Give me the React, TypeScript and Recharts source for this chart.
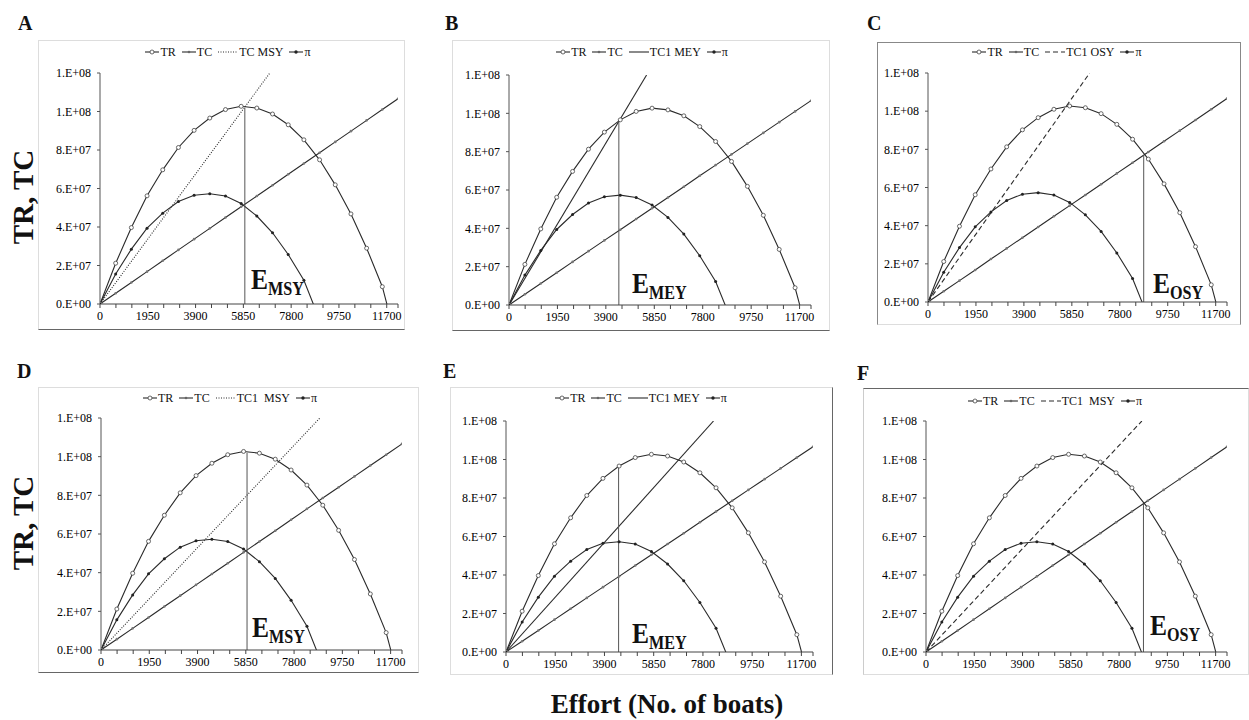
import React from "react";
import { LineChart, Line, XAxis, YAxis } from "recharts";

// effort (boats) at each plotted point
const effort = [0, 640, 1280, 1920, 2560, 3200, 3840, 4480, 5120, 5760, 6400, 7040, 7680, 8320, 8960, 9600, 10240, 10880, 11520, 12160];
const totalRevenue = [0, 2.12e7, 3.97e7, 5.62e7, 6.97e7, 8.13e7, 9.02e7, 9.66e7, 1.01e8, 1.027e8, 1.018e8, 9.87e7, 9.31e7, 8.53e7, 7.49e7, 6.19e7, 4.68e7, 2.9e7, 9.0e6, -2.2e7];
const totalCost = [0, 5.6e6, 1.12e7, 1.68e7, 2.25e7, 2.81e7, 3.37e7, 3.93e7, 4.49e7, 5.05e7, 5.61e7, 6.17e7, 6.74e7, 7.3e7, 7.86e7, 8.42e7, 8.98e7, 9.54e7, 1.01e8, 1.066e8];
const profit = [0, 1.56e7, 2.85e7, 3.94e7, 4.72e7, 5.32e7, 5.65e7, 5.73e7, 5.61e7, 5.22e7, 4.57e7, 3.7e7, 2.57e7, 1.23e7, -8.2e6];

const panelLetters = ["A", "B", "C", "D", "E", "F"];
const costLineNames = ["TC MSY", "TC1 MEY", "TC1 OSY", "TC1  MSY", "TC1 MEY", "TC1  MSY"];
// effort at which each panel's cost line reaches the top of the axis (1.2E+08)
const costLineReach = [6930, 5540, 6576, 8840, 8221, 8720];
const refEffort = [5910, 4423, 8773, 5900, 4460, 8785];
const refHeight = [1.02e8, 9.57e7, 7.7e7, 1.02e8, 9.7e7, 7.7e7];
const refNames = ["MSY", "MEY", "OSY", "MSY", "MEY", "OSY"];

const yTicks = [0, 2e7, 4e7, 6e7, 8e7, 1e8, 1.2e8];
const xTicks = [0, 650, 1300, 1950, 2600, 3250, 3900, 4550, 5200, 5850, 6500, 7150, 7800, 8450, 9100, 9750, 10400, 11050, 11700, 12160];
const xLabelTicks = [0, 1950, 3900, 5850, 7800, 9750, 11700];

const X_MAX = 12160;
const Y_MAX = 1.2e8;
const X_AXIS_H = 20;
const Y_AXIS_W = 50;
const FONT = '"Liberation Serif", "Times New Roman", serif';
const INK = "#2a2a2a";

const rows = effort.map((x, i) => ({ x, tr: totalRevenue[i], tc: totalCost[i] }));
const profitRows = profit.map((p, i) => ({ x: effort[i], pi: p }));

// box: x, y, w, h ; plot: x0, y0, x1, y1 ; border: top right bottom left
const layout = [
  { box: [38, 40, 367, 290], plot: [100, 73, 398, 304], legend: [228, 52], letter: [18, 30], eLabel: [251, 289], dash: "1 1.5", border: ["#ddd", "#ddd", "#666", "#ddd"] },
  { box: [452, 40, 378, 291], plot: [509, 75, 811, 305], legend: [642, 52], letter: [445, 30], eLabel: [632, 293], dash: "", border: ["#ddd", "#ddd", "#666", "#ddd"] },
  { box: [877, 42, 364, 283], plot: [928, 73, 1227, 302], legend: [1057, 52], letter: [867, 30], eLabel: [1153, 293], dash: "5 3", border: ["#888", "#888", "#ddd", "#888"] },
  { box: [38, 387, 381, 286], plot: [101, 418, 402, 650], legend: [230, 398], letter: [17, 378], eLabel: [252, 637], dash: "1 1.5", border: ["#ddd", "#ddd", "#666", "#ddd"] },
  { box: [450, 387, 383, 288], plot: [506, 421, 813, 652], legend: [641, 398], letter: [443, 378], eLabel: [632, 643], dash: "", border: ["#ddd", "#666", "#ddd", "#ddd"] },
  { box: [863, 388, 386, 287], plot: [926, 421, 1227, 652], legend: [1055, 401], letter: [857, 380], eLabel: [1150, 635], dash: "5 3", border: ["#666", "#ddd", "#ddd", "#ccc"] },
];

function sciTick(v: number) {
  if (v === 0) return "0.E+00";
  let e = Math.floor(Math.log10(v));
  let m = Math.round(v / Math.pow(10, e));
  if (m >= 10) {
    m = 1;
    e += 1;
  }
  return `${m}.E+${String(e).padStart(2, "0")}`;
}

function LegendIcon({ kind, dash }: { kind: string; dash?: string }) {
  const w = kind === "cost" ? 20 : 14;
  return (
    <svg width={w} height={8} style={{ marginRight: 1 }}>
      <line x1={0} y1={4} x2={w} y2={4} stroke={INK} strokeWidth={1.1} strokeDasharray={dash || undefined} />
      {kind === "tr" && <circle cx={w / 2} cy={4} r={2} fill="#fff" stroke="#444" strokeWidth={0.8} />}
      {kind === "tc" && <circle cx={w / 2} cy={4} r={1.3} fill="#666" />}
      {kind === "pi" && <circle cx={w / 2} cy={4} r={1.7} fill="#222" />}
    </svg>
  );
}

function PanelLegend({ idx }: { idx: number }) {
  const L = layout[idx];
  const items = [
    { kind: "tr", name: "TR" },
    { kind: "tc", name: "TC" },
    { kind: "cost", name: costLineNames[idx], dash: L.dash },
    { kind: "pi", name: "π" },
  ];
  return (
    <div
      style={{
        position: "absolute",
        left: L.legend[0] - 150,
        top: L.legend[1] - 7,
        width: 300,
        display: "flex",
        justifyContent: "center",
        alignItems: "center",
        fontFamily: FONT,
        fontSize: 12,
        color: "#111",
        lineHeight: "14px",
        whiteSpace: "pre",
      }}
    >
      {items.map((it) => (
        <span key={it.name} style={{ display: "inline-flex", alignItems: "center", margin: "0 3px" }}>
          <LegendIcon kind={it.kind} dash={it.dash} />
          {it.name}
        </span>
      ))}
    </div>
  );
}

function Panel({ idx }: { idx: number }) {
  const L = layout[idx];
  const [bx, by, bw, bh] = L.box;
  const [px0, py0, px1, py1] = L.plot;
  const margin = {
    top: py0 - by,
    right: bx + bw - px1,
    bottom: Math.max(0, by + bh - py1 - X_AXIS_H),
    left: px0 - bx - Y_AXIS_W,
  };
  const costData = [
    { x: 0, y: 0 },
    { x: costLineReach[idx], y: Y_MAX },
  ];
  const refData = [
    { x: refEffort[idx], y: 0 },
    { x: refEffort[idx], y: refHeight[idx] },
  ];
  const tickStyle = { fontSize: 12, fill: "#000", fontFamily: FONT };
  return (
    <>
      <div
        style={{
          position: "absolute",
          left: bx,
          top: by,
          width: bw,
          height: bh,
          boxSizing: "border-box",
          borderStyle: "solid",
          borderWidth: 1,
          borderColor: L.border.join(" "),
        }}
      />
      <div style={{ position: "absolute", left: bx, top: by }}>
        <LineChart width={bw} height={bh} data={rows} margin={margin}>
          <XAxis
            dataKey="x"
            type="number"
            domain={[0, X_MAX]}
            ticks={xTicks}
            interval={0}
            height={X_AXIS_H}
            tickSize={4}
            tickMargin={3}
            tickFormatter={(v: number) => (xLabelTicks.includes(v) ? String(v) : "")}
            tick={tickStyle}
            stroke="#444"
            allowDataOverflow
          />
          <YAxis
            type="number"
            domain={[0, Y_MAX]}
            ticks={yTicks}
            interval={0}
            width={Y_AXIS_W}
            tickSize={3}
            tickMargin={6}
            tickFormatter={sciTick}
            tick={tickStyle}
            stroke="#555"
            allowDataOverflow
          />
          <Line
            dataKey="tr"
            type="linear"
            stroke={INK}
            strokeWidth={1.1}
            dot={{ r: 2, fill: "#fff", stroke: "#444", strokeWidth: 0.8 }}
            activeDot={false}
            isAnimationActive={false}
          />
          <Line
            dataKey="tc"
            type="linear"
            stroke={INK}
            strokeWidth={1.1}
            dot={{ r: 1.3, fill: "#777", stroke: "none" }}
            activeDot={false}
            isAnimationActive={false}
          />
          <Line
            data={costData}
            dataKey="y"
            type="linear"
            stroke={INK}
            strokeWidth={1.1}
            strokeDasharray={L.dash || undefined}
            dot={false}
            activeDot={false}
            isAnimationActive={false}
          />
          <Line
            data={profitRows}
            dataKey="pi"
            type="linear"
            stroke={INK}
            strokeWidth={1.1}
            dot={{ r: 1.5, fill: "#222", stroke: "none" }}
            activeDot={false}
            isAnimationActive={false}
          />
          <Line
            data={refData}
            dataKey="y"
            type="linear"
            stroke="#555"
            strokeWidth={1}
            dot={false}
            activeDot={false}
            isAnimationActive={false}
          />
        </LineChart>
      </div>
      <PanelLegend idx={idx} />
    </>
  );
}

export default function App() {
  return (
    <div style={{ position: "absolute", left: 0, top: 0, width: 1249, height: 720, background: "#fff", fontFamily: FONT, overflow: "hidden" }}>
      {panelLetters.map((_, i) => (
        <Panel key={i} idx={i} />
      ))}
      <svg width={1249} height={720} style={{ position: "absolute", left: 0, top: 0, pointerEvents: "none" }}>
        {panelLetters.map((letter, i) => (
          <text key={letter} x={layout[i].letter[0]} y={layout[i].letter[1]} fontFamily={FONT} fontWeight="bold" fontSize={20} fill="#111">
            {letter}
          </text>
        ))}
        {refNames.map((name, i) => (
          <text
            key={i}
            transform={`translate(${layout[i].eLabel[0]},${layout[i].eLabel[1]}) scale(0.85,1)`}
            fontFamily={FONT}
            fontWeight="bold"
            fontSize={30}
            fill="#111"
          >
            E
            <tspan fontSize={19} dy={6}>
              {name}
            </tspan>
          </text>
        ))}
        <text transform="translate(33,197) rotate(-90)" textAnchor="middle" fontFamily={FONT} fontWeight="bold" fontSize={29} fill="#111">
          TR, TC
        </text>
        <text transform="translate(33,523) rotate(-90)" textAnchor="middle" fontFamily={FONT} fontWeight="bold" fontSize={29} fill="#111">
          TR, TC
        </text>
        <text x={667} y={713} textAnchor="middle" fontFamily={FONT} fontWeight="bold" fontSize={27} fill="#111">
          Effort (No. of boats)
        </text>
      </svg>
    </div>
  );
}
